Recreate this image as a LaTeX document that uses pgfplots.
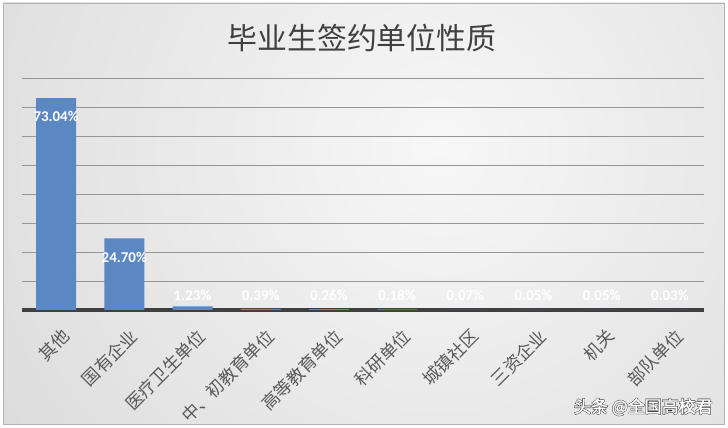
\documentclass[border=0pt]{standalone}
\usepackage{fontspec}
\setmainfont{Carlito}
\newfontfamily\cjk{Noto Sans CJK SC}
\newfontfamily\cjkwm[FakeBold=2]{Noto Sans CJK SC}
\newfontfamily\cjkwmshadow[FakeBold=7]{Noto Sans CJK SC}
\usepackage{pgfplots}
\pgfplotsset{compat=1.18}

\definecolor{barblue}{RGB}{91,135,195}
\definecolor{bgedge}{RGB}{194,194,194}
\definecolor{bgcenter}{RGB}{247,247,247}
\definecolor{labelgray}{RGB}{89,89,89}
\definecolor{titlegray}{RGB}{64,64,64}
\definecolor{gridgray}{RGB}{150,150,150}
\definecolor{axisdark}{RGB}{64,64,64}
\pgfdeclareradialshading{bgshade}{\pgfpoint{0bp}{0bp}}{%
  color(0bp)=(bgcenter); color(50bp)=(bgedge)}

\begin{document}
\begin{tikzpicture}
  \useasboundingbox[fill=white] (0,0) rectangle (728bp,428bp);
  % background panel
  \begin{scope}
    \clip (3bp,4bp) rectangle (724bp,425bp);
    \shade[shading=bgshade] (440bp,280bp) circle (520bp);
  \end{scope}
  \draw[gray!60, line width=0.8bp] (3bp,4bp) rectangle (724bp,425bp);

  % title
  \node[text=titlegray] at (362bp,390bp)
    {\cjk\fontsize{30}{30}\selectfont 毕业生签约单位性质};

  \begin{axis}[
      at={(22bp,118bp)}, anchor=south west,
      scale only axis,
      width=682bp, height=232bp,
      xmin=-0.5, xmax=9.5,
      ymin=0, ymax=80,
      axis x line*=bottom,
      axis y line*=left,
      y axis line style={draw=none},
      x axis line style={draw=axisdark, line width=3bp, -},
      ytick={10,20,...,80},
      yticklabels={},
      ymajorgrids,
      grid style={gridgray, line width=0.7bp},
      major tick length=0pt,
      xtick={0,...,9},
      xticklabels={其他,国有企业,医疗卫生单位,中、初教育单位,高等教育单位,科研单位,城镇社区,三资企业,机关,部队单位},
      xticklabel style={rotate=45, anchor=north east, text=labelgray,
        font=\cjk\fontsize{17.5}{17.5}\selectfont, inner sep=1bp, xshift=-8bp, yshift=-14bp},
    ]
    \addplot[ybar, bar width=40bp, fill=barblue, draw=none]
      coordinates {(0,73.04) (1,24.70) (2,1.23) (3,0.39) (4,0.26)
                   (5,0.18) (6,0.07) (7,0.05) (8,0.05) (9,0.03)};
    % value labels
    \addplot[draw=none, mark=none,
      nodes near coords={\textbf{\pgfplotspointmeta}},
      point meta=explicit symbolic,
      every node near coord/.append style={anchor=center, text=white,
        font=\fontsize{15}{15}\selectfont}]
      coordinates {(0,66.9)[73.04\%] (1,18.3)[24.70\%] (2,5.2)[1.23\%]
                   (3,5.2)[0.39\%] (4,5.2)[0.26\%] (5,5.2)[0.18\%]
                   (6,5.2)[0.07\%] (7,5.2)[0.05\%] (8,5.2)[0.05\%]
                   (9,5.2)[0.03\%]};
  \end{axis}

  % watermark: white text over a heavier dark copy, which gives it an outline
  \node[anchor=east, text=black!85] at (716bp,21bp)
    {\cjkwmshadow\fontsize{17}{17}\selectfont 头条 @全国高校君};
  \node[anchor=east, text=white] at (716bp,21bp)
    {\cjkwm\fontsize{17}{17}\selectfont 头条 @全国高校君};
\end{tikzpicture}
\end{document}
